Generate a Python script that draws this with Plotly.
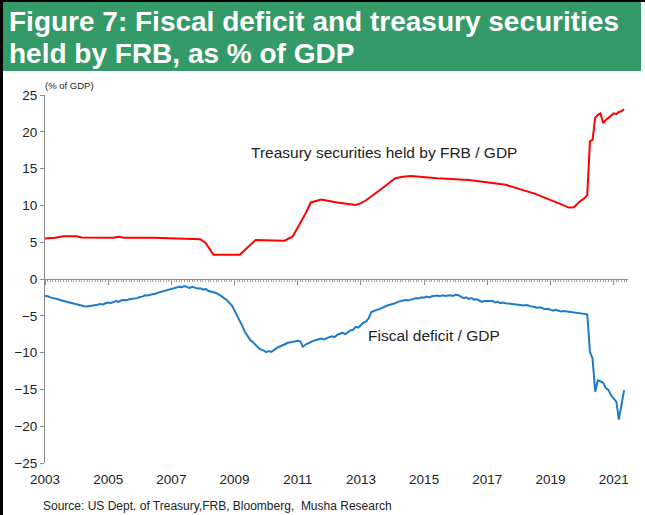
import pandas as pd
import plotly.graph_objects as go

# ---------------- data ----------------
# Fiscal deficit / GDP (monthly, 12m rolling), Jan 2003 .. May 2021
deficit_2003 = [-2.3, -2.35, -2.5, -2.55, -2.7, -2.75, -2.9, -3.0, -3.05, -3.2, -3.25, -3.4]
deficit_2004 = [-3.45, -3.55, -3.6, -3.7, -3.75, -3.7, -3.6, -3.65, -3.5, -3.4, -3.45, -3.3]
deficit_2005 = [-3.2, -3.25, -3.1, -3.0, -3.1, -2.9, -2.85, -2.9, -2.75, -2.7, -2.75, -2.6]
deficit_2006 = [-2.45, -2.4, -2.2, -2.25, -2.15, -2.1, -2.0, -1.85, -1.75, -1.6, -1.5, -1.4]
deficit_2007 = [-1.35, -1.2, -1.15, -1.05, -1.1, -0.95, -1.1, -1.2, -1.05, -1.15, -1.3, -1.25]
deficit_2008 = [-1.45, -1.35, -1.6, -1.7, -1.75, -1.9, -2.1, -2.3, -2.6, -2.85, -3.2, -3.6]
deficit_2009 = [-4.3, -5.0, -5.6, -6.4, -7.2, -7.8, -8.3, -8.6, -9.0, -9.3, -9.6, -9.7]
deficit_2010 = [-9.95, -9.8, -9.9, -9.6, -9.4, -9.2, -9.1, -8.9, -8.7, -8.6, -8.5, -8.5]
deficit_2011 = [-8.4, -8.5, -9.2, -8.9, -8.7, -8.6, -8.4, -8.3, -8.2, -8.1, -8.2, -8.0]
deficit_2012 = [-7.9, -7.8, -7.9, -7.6, -7.5, -7.3, -7.5, -7.2, -7.0, -6.9, -6.5, -6.6]
deficit_2013 = [-6.2, -5.9, -5.8, -5.3, -4.5, -4.3, -4.2, -4.1, -3.9, -3.7, -3.6, -3.5]
deficit_2014 = [-3.4, -3.3, -3.1, -3.0, -2.9, -2.85, -2.9, -2.75, -2.7, -2.6, -2.65, -2.5]
deficit_2015 = [-2.55, -2.4, -2.5, -2.35, -2.3, -2.25, -2.35, -2.2, -2.3, -2.25, -2.2, -2.3]
deficit_2016 = [-2.15, -2.2, -2.4, -2.6, -2.5, -2.7, -2.6, -2.8, -2.75, -2.9, -3.1, -3.0]
deficit_2017 = [-3.0, -3.1, -3.0, -3.2, -3.1, -3.3, -3.2, -3.3, -3.35, -3.3, -3.4, -3.4]
deficit_2018 = [-3.45, -3.5, -3.6, -3.55, -3.7, -3.75, -3.8, -3.9, -3.85, -4.0, -4.1, -4.05]
deficit_2019 = [-4.2, -4.3, -4.2, -4.3, -4.4, -4.35, -4.4, -4.45, -4.5, -4.6, -4.55, -4.6]
deficit_2020 = [-4.7, -4.75, -4.8, -9.9, -10.8, -15.3, -13.8, -13.9, -14.1, -14.8, -15.1, -15.8]
deficit_2021 = [-16.2, -16.7, -19.1, -17.0, -15.1]

deficit_values = (deficit_2003 + deficit_2004 + deficit_2005 + deficit_2006 + deficit_2007
                  + deficit_2008 + deficit_2009 + deficit_2010 + deficit_2011 + deficit_2012
                  + deficit_2013 + deficit_2014 + deficit_2015 + deficit_2016 + deficit_2017
                  + deficit_2018 + deficit_2019 + deficit_2020 + deficit_2021)
deficit_dates = pd.date_range("2003-01-01", periods=len(deficit_values), freq="MS")

# Treasury securities held by FRB / GDP
frb_dates = ["2003-01-01", "2003-05-01", "2003-08-01", "2004-01-01", "2004-03-01", "2005-03-01",
             "2005-05-01", "2005-07-01", "2006-06-01", "2007-08-01", "2007-12-01", "2008-02-01",
             "2008-03-01", "2008-05-01", "2009-03-01", "2009-05-01", "2009-07-01", "2009-09-01",
             "2010-08-01", "2010-11-01", "2011-01-01", "2011-04-01", "2011-06-01", "2011-10-01",
             "2012-04-01", "2012-11-01", "2013-01-01", "2013-03-01", "2013-09-01", "2014-02-01",
             "2014-05-01", "2014-08-01", "2015-06-01", "2016-06-01", "2017-08-01", "2018-07-01",
             "2019-04-01", "2019-08-01", "2019-10-01", "2019-12-01", "2020-02-01", "2020-03-01",
             "2020-04-01", "2020-05-01", "2020-06-01", "2020-07-01", "2020-08-01", "2020-09-01",
             "2020-10-01", "2020-11-01", "2020-12-01", "2021-01-01", "2021-02-01", "2021-03-01",
             "2021-04-01", "2021-05-01"]
frb_values = [5.5, 5.6, 5.8, 5.8, 5.65, 5.6,
              5.75, 5.6, 5.6, 5.5, 5.4, 4.9,
              4.4, 3.3, 3.3, 4.0, 4.6, 5.3,
              5.2, 5.75, 7.0, 8.9, 10.4, 10.8,
              10.4, 10.05, 10.3, 10.7, 12.3, 13.7,
              13.9, 14.0, 13.7, 13.45, 12.8, 11.6,
              10.3, 9.7, 9.75, 10.5, 11.0, 11.4,
              18.7, 18.9, 21.9, 22.3, 22.5, 21.2,
              21.6, 21.9, 22.1, 22.5, 22.4, 22.7,
              22.8, 23.05]

y_ticks = [-25, -20, -15, -10, -5, 0, 5, 10, 15, 20, 25]

title_line1 = "Figure 7: Fiscal deficit and treasury securities"
title_line2 = "held by FRB, as % of GDP"
unit_text = "(% of GDP)"
frb_label = "Treasury securities held by FRB / GDP"
deficit_label = "Fiscal deficit / GDP"
source_text = "Source: US Dept. of Treasury,FRB, Bloomberg,  Musha Research"

# ---------------- layout helpers (pixel -> paper) ----------------
W, H = 645, 515
L, R, T, B = 45, 17, 95, 52
PW, PH = W - L - R, H - T - B


def px(x):
    return (x - L) / PW


def py(y):
    return (H - B - y) / PH


FONT = "Liberation Sans, Arial, sans-serif"
x_range = ["2003-01-01", "2021-06-15"]

fig = go.Figure()
fig.add_trace(go.Scatter(x=deficit_dates, y=deficit_values, mode="lines",
                         line=dict(color="#1E7BC6", width=2), xaxis="x", yaxis="y",
                         showlegend=False, hoverinfo="x+y"))
fig.add_trace(go.Scatter(x=frb_dates, y=frb_values, mode="lines",
                         line=dict(color="#FF0000", width=2), xaxis="x2", yaxis="y",
                         showlegend=False, hoverinfo="x+y"))

shapes = [
    # green title banner
    dict(type="rect", xref="paper", yref="paper", x0=px(3), x1=px(641), y0=py(71), y1=py(2),
         fillcolor="#349A68", line=dict(width=0), layer="below"),
    # left black border
    dict(type="line", xref="paper", yref="paper", x0=px(1.5), x1=px(1.5), y0=py(0), y1=py(515),
         line=dict(color="black", width=3)),
    # top black border
    dict(type="line", xref="paper", yref="paper", x0=px(0), x1=px(645), y0=py(1), y1=py(1),
         line=dict(color="black", width=2)),
]

annotations = [
    dict(text="<b>" + title_line1 + "</b>", xref="paper", yref="paper", x=px(7), y=py(22),
         xanchor="left", yanchor="middle", align="left", showarrow=False,
         font=dict(family=FONT, size=28, color="white")),
    dict(text="<b>" + title_line2 + "</b>", xref="paper", yref="paper", x=px(7), y=py(53),
         xanchor="left", yanchor="middle", align="left", showarrow=False,
         font=dict(family=FONT, size=28, color="white")),
    dict(text=unit_text, xref="paper", yref="paper", x=px(43), y=py(85),
         xanchor="left", yanchor="middle", showarrow=False,
         font=dict(family=FONT, size=9.5, color="#222222")),
    dict(text=frb_label, xref="paper", yref="paper", x=px(249), y=py(152),
         xanchor="left", yanchor="middle", showarrow=False,
         font=dict(family=FONT, size=15.5, color="#222222")),
    dict(text=deficit_label, xref="paper", yref="paper", x=px(366), y=py(335),
         xanchor="left", yanchor="middle", showarrow=False,
         font=dict(family=FONT, size=15.5, color="#222222")),
    dict(text=source_text, xref="paper", yref="paper", x=px(41), y=py(506),
         xanchor="left", yanchor="middle", showarrow=False,
         font=dict(family=FONT, size=12, color="#222222")),
]

fig.update_layout(
    width=W, height=H,
    margin=dict(l=L, r=R, t=T, b=B, pad=0),
    paper_bgcolor="white", plot_bgcolor="white",
    font=dict(family=FONT, size=13, color="#222222"),
    showlegend=False,
    shapes=shapes,
    annotations=annotations,
    xaxis=dict(type="date", range=x_range, tick0="2003-01-01", dtick="M24", tickformat="%Y",
               showline=False, showgrid=False, zeroline=False, ticks="",
               ticklabelstandoff=6, tickfont=dict(size=13.5, color="#222222")),
    xaxis2=dict(type="date", range=x_range, overlaying="x", anchor="free", position=0.5,
                side="bottom", tick0="2003-01-01", dtick="M24", showticklabels=False,
                showline=True, linecolor="#8C8C8C", linewidth=1,
                ticks="outside", ticklen=5, tickcolor="#8C8C8C", tickwidth=1,
                showgrid=False, zeroline=False,
                minor=dict(dtick="M1", tick0="2003-01-01", ticks="outside", ticklen=2,
                           tickcolor="#A0A0A0", showgrid=False)),
    yaxis=dict(range=[-25, 25], tickvals=y_ticks, showline=True, linecolor="#8C8C8C",
               linewidth=1, ticks="outside", ticklen=4, tickcolor="#8C8C8C",
               showgrid=False, zeroline=False, tickfont=dict(size=13.5, color="#222222")),
)

fig.write_html("out.html")
